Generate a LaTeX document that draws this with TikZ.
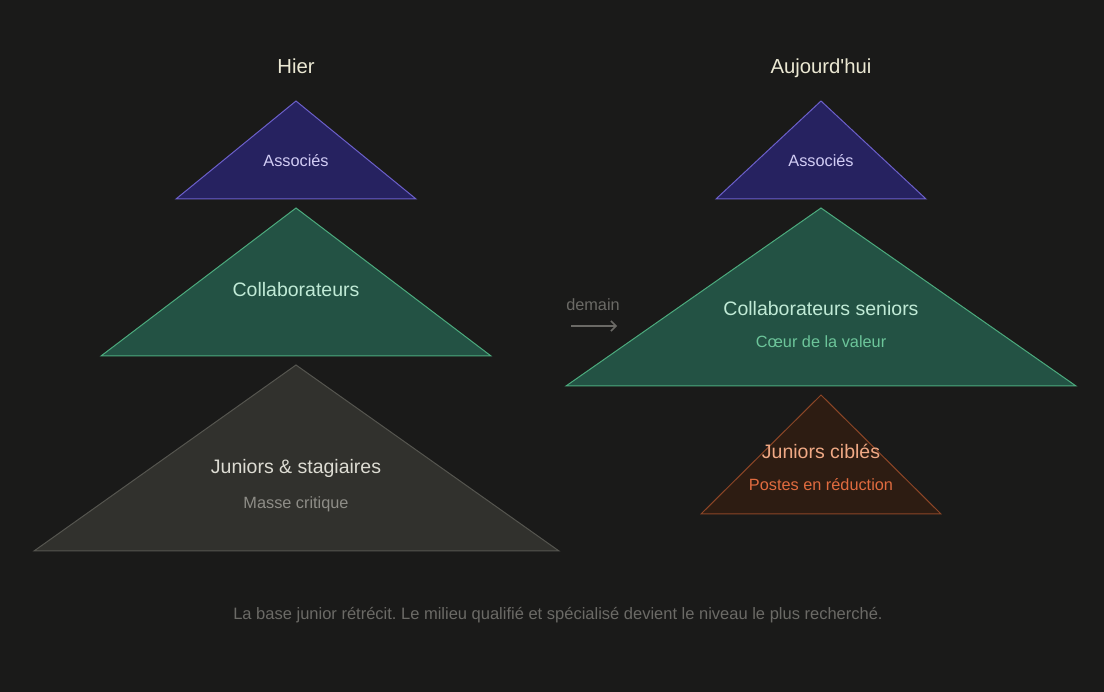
\documentclass[tikz,border=0pt]{standalone}
\usepackage{fontspec}
\setmainfont{Liberation Sans}
\usetikzlibrary{arrows.meta}
\frenchspacing
\definecolor{bg}{HTML}{1A1A19}
\definecolor{navyfill}{HTML}{262260}
\definecolor{navyline}{HTML}{6B5FC9}
\definecolor{greenfill}{HTML}{235244}
\definecolor{greenline}{HTML}{4CAA7D}
\definecolor{grayfill}{HTML}{31312D}
\definecolor{grayline}{HTML}{55554F}
\definecolor{brownfill}{HTML}{2D1C12}
\definecolor{brownline}{HTML}{8B4526}
\definecolor{titlecol}{HTML}{EBE8D3}
\definecolor{assoctext}{HTML}{D2CDF5}
\definecolor{collabtext}{HTML}{C0EAD6}
\definecolor{coeurtext}{HTML}{6CC59A}
\definecolor{juntext}{HTML}{DDDCD3}
\definecolor{massetext}{HTML}{8E8D87}
\definecolor{ciblestext}{HTML}{F0A985}
\definecolor{postestext}{HTML}{E06B3F}
\definecolor{mutedtext}{HTML}{6B6A66}
\tikzset{
  lbl/.style={anchor=base, inner sep=0pt},
  title/.style={lbl, text=titlecol, font=\fontsize{20.3}{24}\selectfont},
  biglbl/.style={lbl, font=\fontsize{19.5}{23}\selectfont},
  smalllbl/.style={lbl, font=\fontsize{16.3}{20}\selectfont},
  tri/.style={line width=1pt, line join=miter},
}
\begin{document}
\begin{tikzpicture}[x=1pt,y=-1pt]
\fill[bg] (0,0) rectangle (1104,692);
\useasboundingbox (0,0) rectangle (1104,692);

% Left pyramid
\draw[tri, fill=navyfill, draw=navyline] (296,101) -- (416,199) -- (176,199) -- cycle;
\draw[tri, fill=greenfill, draw=greenline] (296,208) -- (491,356) -- (101,356) -- cycle;
\draw[tri, fill=grayfill, draw=grayline] (296,365) -- (559,551) -- (34,551) -- cycle;

% Right pyramid
\draw[tri, fill=navyfill, draw=navyline] (821,101) -- (926,199) -- (716,199) -- cycle;
\draw[tri, fill=greenfill, draw=greenline] (821,208) -- (1076,386) -- (566,386) -- cycle;
\draw[tri, fill=brownfill, draw=brownline] (821,395) -- (941,514) -- (701,514) -- cycle;

% Titles
\node[title] (hier) at (296,74) {Hier};
\node[title] (auj) at (821,74) {Aujourd\textquotesingle hui};

% Left labels
\node[lbl, text=assoctext, font=\fontsize{16.3}{20}\selectfont] (assocL) at (296,167) {Associés};
\node[biglbl, text=collabtext] (collabL) at (296,297) {Collaborateurs};
\node[biglbl, text=juntext] (junL) at (296,474) {Juniors \& stagiaires};
\node[smalllbl, text=massetext] (masse) at (296,509) {Masse critique};

% Right labels
\node[lbl, text=assoctext, font=\fontsize{16.3}{20}\selectfont] (assocR) at (821,167) {Associés};
\node[biglbl, text=collabtext] (collabR) at (821,316) {Collaborateurs seniors};
\node[smalllbl, text=coeurtext] (coeur) at (821,348) {Cœur de la valeur};
\node[biglbl, text=ciblestext] (junR) at (821,459) {Juniors ciblés};
\node[smalllbl, text=postestext] (postes) at (821,491) {Postes en réduction};

% Arrow
\node[smalllbl, text=mutedtext] (demain) at (593,311) {demain};
\coordinate (arrS) at (571,326);
\coordinate (arrE) at (617,326);
\draw[mutedtext, line width=1.5pt, -{Straight Barb[length=5pt,width=10pt]}] (arrS) -- (arrE);

% Caption
\node[lbl, text=mutedtext, font=\fontsize{16.5}{20}\selectfont] (caption) at (558,619) {La base junior rétrécit. Le milieu qualifié et spécialisé devient le niveau le plus recherché.};
\end{tikzpicture}
\end{document}
